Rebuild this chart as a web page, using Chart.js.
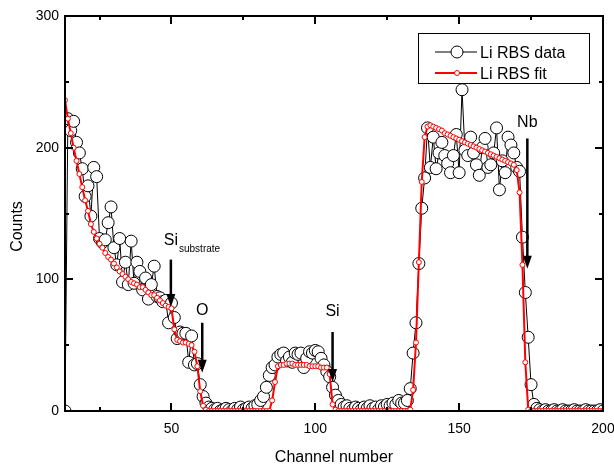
<!DOCTYPE html>
<html lang="en">
<head>
<meta charset="UTF-8">
<title>Li RBS spectrum</title>
<script src="https://cdn.jsdelivr.net/npm/chart.js"></script>
<style>
  body { margin: 0; background: #fff; }
  #wrap { width: 614px; height: 464px; }
</style>
</head>
<body>
<div id="wrap"><canvas id="rbs" width="614" height="464"></canvas></div>
<script>
// one value per channel, starting at channel 13
const firstChannel = 13;

const measuredCounts = [
  0, 222, 213, 220, 204, 196, 184,                 // 13-19
  163, 171, 148, 185, 178, 131, 128, 130, 143, 155, // 20-29
  124, 111, 131, 98, 113, 96, 129, 97, 113, 106,    // 30-39
  92, 101, 85, 96, 110, 87, 86, 83, 84, 67,         // 40-49
  82, 71, 55, 60, 59, 59, 37, 57, 35, 36,           // 50-59
  20, 11, 6, 3, 2, 1, 2, 0, 1, 2,                   // 60-69
  1, 0, 2, 1, 3, 1, 2, 3, 2, 4,                     // 70-79
  5, 8, 11, 18, 27, 33, 35, 41, 43, 44,             // 80-89
  38, 41, 37, 44, 43, 44, 33, 40, 45, 44,           // 90-99
  46, 45, 40, 35, 30, 26, 18, 12, 8, 5,             // 100-109
  3, 4, 2, 1, 3, 2, 1, 3, 2, 4,                     // 110-119
  2, 3, 1, 4, 3, 5, 4, 6, 5, 8,                     // 120-129
  6, 6, 8, 17, 44, 67, 112, 154, 177, 215,          // 130-139
  185, 208, 184, 196, 204, 194, 188, 181, 194, 210, // 140-149
  181, 244, 198, 194, 208, 196, 187, 179, 200, 207, // 150-159
  185, 187, 196, 215, 168, 190, 181, 208, 202, 196, // 160-169
  185, 182, 132, 90, 56, 20, 5, 2, 1, 0,            // 170-179
  1, 0, 0, 1, 0, 0, 1, 0, 0, 0,                     // 180-189
  1, 0, 0, 0, 1, 0, 0, 0, 0, 1,                     // 190-199
  0                                                 // 200
];

const fitCounts = [
  236, 222, 211, 200, 190, 180, 170,                // 13-19
  160, 152, 142, 136, 131, 127, 124, 120, 117, 115, // 20-29
  112, 109, 106, 104, 102, 100, 98, 97, 96, 94,     // 30-39
  94, 92, 90, 88, 88, 86, 84, 82, 80, 79,           // 40-49
  78, 62, 54, 53, 52, 52, 51, 50, 45, 34,           // 50-59
  15, 4, 1, 0, 0, 0, 0, 0, 0, 0,                    // 60-69
  0, 0, 0, 0, 0, 0, 0, 0, 0, 0,                     // 70-79
  0, 0, 0, 0, 0, 8, 22, 34, 35, 35,                 // 80-89
  36, 36, 36, 35, 35, 35, 35, 35, 34, 34,           // 90-99
  34, 34, 33, 33, 33, 28, 5, 1, 0, 0,               // 100-109
  0, 0, 0, 0, 0, 0, 0, 0, 0, 0,                     // 110-119
  0, 0, 0, 0, 0, 0, 0, 0, 0, 0,                     // 120-129
  0, 0, 0, 1, 16, 52, 113, 174, 208, 216,           // 130-139
  217, 216, 215, 214, 213, 211, 210, 209, 208, 207, // 140-149
  206, 205, 204, 203, 202, 201, 200, 199, 198, 197, // 150-159
  196, 195, 194, 193, 192, 191, 190, 189, 188, 187, // 160-169
  183, 166, 111, 37, 1, 0, 0, 0, 0, 0,              // 170-179
  0, 0, 0, 0, 0, 0, 0, 0, 0, 0,                     // 180-189
  0, 0, 0, 0, 0, 0, 0, 0, 0, 0,                     // 190-199
  0                                                 // 200
];

const seriesNames = ['Li RBS data', 'Li RBS fit'];

const xTicks = [50, 100, 150, 200];
const xMinorTicks = [25, 75, 125, 175];
const yTicks = [0, 100, 200, 300];
const yMinorTicks = [50, 150, 250];

// surface edges: label, optional subscript, channel, arrow from / to (counts), label baseline (counts)
const edgeNames = ['Si', 'O', 'Si', 'Nb'];
const edgeSubs = ['substrate', '', '', ''];
const edgeChannels = [49.8, 60.7, 106, 173.7];
const arrowFrom = [115, 67, 60, 207];
const arrowTo = [79, 29, 22, 108];
const labelAt = [126, 73, 72, 216];

const FONT = "'Liberation Sans', Arial, sans-serif";

const toPoints = arr => arr.map((c, i) => ({ x: firstChannel + i, y: c }));

const axesPlugin = {
  id: 'axes',
  afterDatasetsDraw(chart) {
    const { ctx, chartArea: a, scales: { x, y } } = chart;
    ctx.save();
    ctx.strokeStyle = '#000';
    ctx.lineWidth = 2;
    ctx.strokeRect(a.left, a.top, a.right - a.left, a.bottom - a.top);

    // inward ticks on all four sides
    ctx.beginPath();
    const xt = (v, len) => {
      const px = Math.round(x.getPixelForValue(v));
      ctx.moveTo(px, a.bottom); ctx.lineTo(px, a.bottom - len);
      ctx.moveTo(px, a.top); ctx.lineTo(px, a.top + len);
    };
    const yt = (v, len) => {
      const py = Math.round(y.getPixelForValue(v));
      ctx.moveTo(a.left, py); ctx.lineTo(a.left + len, py);
      ctx.moveTo(a.right, py); ctx.lineTo(a.right - len, py);
    };
    xTicks.forEach(v => xt(v, 8));
    xMinorTicks.forEach(v => xt(v, 4));
    yTicks.forEach(v => yt(v, 8));
    yMinorTicks.forEach(v => yt(v, 4));
    ctx.stroke();

    // tick labels
    ctx.fillStyle = '#000';
    ctx.font = '14px ' + FONT;
    ctx.textAlign = 'center';
    ctx.textBaseline = 'alphabetic';
    xTicks.forEach(v => ctx.fillText(String(v), x.getPixelForValue(v), a.bottom + 22));
    ctx.textAlign = 'right';
    ctx.textBaseline = 'middle';
    yTicks.forEach(v => ctx.fillText(String(v), a.left - 6, y.getPixelForValue(v)));

    // axis titles
    ctx.font = '16px ' + FONT;
    ctx.textAlign = 'center';
    ctx.textBaseline = 'alphabetic';
    ctx.fillText('Channel number', (a.left + a.right) / 2, a.bottom + 51);
    ctx.save();
    ctx.translate(22, (a.top + a.bottom) / 2 + 13);
    ctx.rotate(-Math.PI / 2);
    ctx.fillText('Counts', 0, 0);
    ctx.restore();
    ctx.restore();
  },
  afterDraw(chart) {
    const { ctx, chartArea: a, scales: { x, y } } = chart;
    ctx.save();
    ctx.fillStyle = '#000';
    ctx.strokeStyle = '#000';

    // edge arrows with element labels
    edgeNames.forEach((name, i) => {
      const px = x.getPixelForValue(edgeChannels[i]);
      const top = y.getPixelForValue(arrowFrom[i]);
      const tip = y.getPixelForValue(arrowTo[i]);
      ctx.lineWidth = 2.5;
      ctx.beginPath();
      ctx.moveTo(px, top);
      ctx.lineTo(px, tip - 10);
      ctx.stroke();
      ctx.beginPath();
      ctx.moveTo(px - 4.5, tip - 13);
      ctx.lineTo(px + 4.5, tip - 13);
      ctx.lineTo(px, tip);
      ctx.closePath();
      ctx.fill();

      ctx.font = '16px ' + FONT;
      ctx.textAlign = 'center';
      ctx.textBaseline = 'alphabetic';
      const ly = y.getPixelForValue(labelAt[i]);
      ctx.fillText(name, px, ly);
      if (edgeSubs[i]) {
        const w = ctx.measureText(name).width;
        ctx.font = '10px ' + FONT;
        ctx.textAlign = 'left';
        ctx.fillText(edgeSubs[i], px + w / 2 + 1, ly + 7);
      }
    });

    // legend
    const lx = a.right - 185, ly = a.top + 17;
    ctx.lineWidth = 1;
    ctx.strokeRect(lx + 0.5, ly + 0.5, 171, 50);
    ctx.beginPath();
    ctx.moveTo(lx + 17, ly + 19); ctx.lineTo(lx + 59, ly + 19);
    ctx.stroke();
    ctx.beginPath();
    ctx.arc(lx + 39, ly + 19, 6, 0, Math.PI * 2);
    ctx.fillStyle = '#fff';
    ctx.fill();
    ctx.stroke();
    ctx.strokeStyle = '#ff0000';
    ctx.lineWidth = 2;
    ctx.beginPath();
    ctx.moveTo(lx + 17, ly + 40); ctx.lineTo(lx + 59, ly + 40);
    ctx.stroke();
    ctx.lineWidth = 1;
    ctx.beginPath();
    ctx.arc(lx + 39, ly + 40, 2.5, 0, Math.PI * 2);
    ctx.fill();
    ctx.stroke();
    ctx.fillStyle = '#000';
    ctx.font = '16px ' + FONT;
    ctx.textAlign = 'left';
    ctx.textBaseline = 'alphabetic';
    ctx.fillText(seriesNames[0], lx + 62, ly + 25);
    ctx.fillText(seriesNames[1], lx + 62, ly + 46);
    ctx.restore();
  }
};

new Chart(document.getElementById('rbs'), {
  type: 'line',
  data: {
    datasets: [
      {
        label: seriesNames[1],
        data: toPoints(fitCounts),
        borderColor: '#ff0000',
        borderWidth: 2,
        pointRadius: 2.5,
        pointBorderWidth: 1,
        pointBorderColor: '#ff0000',
        pointBackgroundColor: '#fff',
        tension: 0,
        order: 0
      },
      {
        label: seriesNames[0],
        data: toPoints(measuredCounts),
        borderColor: '#000',
        borderWidth: 1,
        pointRadius: 6,
        pointBorderWidth: 1,
        pointBorderColor: '#000',
        pointBackgroundColor: '#fff',
        tension: 0,
        order: 1
      }
    ]
  },
  options: {
    responsive: false,
    animation: false,
    devicePixelRatio: 1,
    events: [],
    layout: { padding: { left: 65, top: 16, right: 11, bottom: 53 } },
    scales: {
      x: { type: 'linear', min: 13, max: 200, display: false },
      y: { min: 0, max: 300, display: false }
    },
    plugins: { legend: { display: false }, tooltip: { enabled: false } }
  },
  plugins: [axesPlugin]
});
</script>
</body>
</html>
